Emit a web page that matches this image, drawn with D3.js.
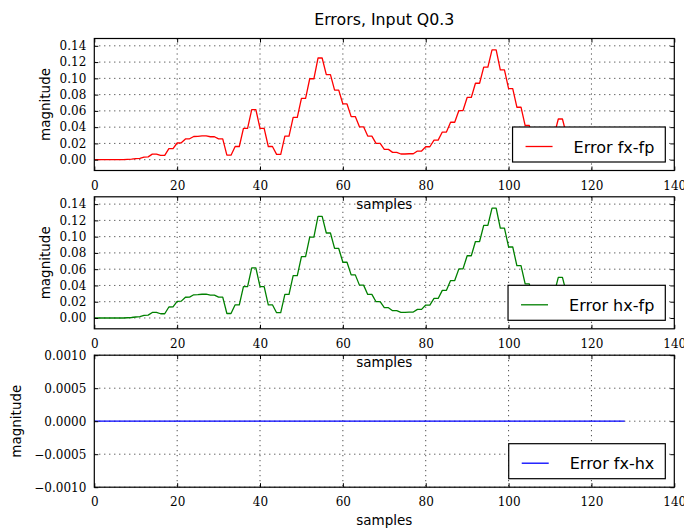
<!DOCTYPE html>
<html><head><meta charset="utf-8">
<script src="https://cdn.jsdelivr.net/npm/d3@7"></script>
<style>body{margin:0;background:#fff} svg{display:block}</style>
</head><body>
<svg id="c" width="684" height="529"></svg>
<script>
const chartTitle = "Errors, Input Q0.3";
const xLabel = "samples";
const yLabel = "magnitude";
const xTicks = [0, 20, 40, 60, 80, 100, 120, 140];
const errTicks = [0, 0.02, 0.04, 0.06, 0.08, 0.10, 0.12, 0.14];
const diffTicks = [-0.001, -0.0005, 0, 0.0005, 0.001];
const legendLabels = ["Error fx-fp", "Error hx-fp", "Error fx-hx"];
const errFxFp = [
  0, 0, 0, 0, 0, 0, 0, 0, 0.0003, 0.0006,
  0.0012, 0.0016, 0.0032, 0.0035, 0.0068, 0.0068, 0.0052, 0.0052, 0.0135, 0.0137,
  0.0205, 0.0207, 0.0255, 0.0257, 0.0285, 0.0287, 0.0292, 0.0292, 0.0282, 0.0282,
  0.0256, 0.0256, 0.0055, 0.0055, 0.0162, 0.0162, 0.0385, 0.0385, 0.0615, 0.0615,
  0.0385, 0.0385, 0.0162, 0.0162, 0.0065, 0.0065, 0.029, 0.029, 0.052, 0.052,
  0.0755, 0.0755, 0.0995, 0.0995, 0.125, 0.125, 0.1045, 0.1045, 0.0855, 0.0855,
  0.0685, 0.0685, 0.053, 0.053, 0.0404, 0.0404, 0.029, 0.029, 0.020, 0.020,
  0.0127, 0.0127, 0.009, 0.009, 0.007, 0.007, 0.0073, 0.0073, 0.0106, 0.0106,
  0.0159, 0.0159, 0.024, 0.024, 0.034, 0.034, 0.046, 0.046, 0.0604, 0.0604,
  0.0765, 0.0765, 0.094, 0.094, 0.1138, 0.1138, 0.135, 0.135, 0.1105, 0.1105,
  0.0873, 0.0873, 0.0645, 0.0645, 0.042, 0.042, 0.02, 0.02, 0.008, 0.008,
  0.03, 0.03, 0.05, 0.05, 0.03, 0.03, 0.012, 0.012, 0.005, 0.005,
  0.02, 0.02, 0.026, 0.026, 0.028, 0.028, 0.027, 0.027, 0.025
];
const errHxFp = [
  0, 0, 0, 0, 0, 0, 0, 0, 0.0003, 0.0006,
  0.0012, 0.0016, 0.0032, 0.0035, 0.0068, 0.0068, 0.0052, 0.0052, 0.0135, 0.0137,
  0.0205, 0.0207, 0.0255, 0.0257, 0.0285, 0.0287, 0.0292, 0.0292, 0.0282, 0.0282,
  0.0256, 0.0256, 0.0055, 0.0055, 0.0162, 0.0162, 0.0385, 0.0385, 0.0615, 0.0615,
  0.0385, 0.0385, 0.0162, 0.0162, 0.0065, 0.0065, 0.029, 0.029, 0.052, 0.052,
  0.0755, 0.0755, 0.0995, 0.0995, 0.125, 0.125, 0.1045, 0.1045, 0.0855, 0.0855,
  0.0685, 0.0685, 0.053, 0.053, 0.0404, 0.0404, 0.029, 0.029, 0.020, 0.020,
  0.0127, 0.0127, 0.009, 0.009, 0.007, 0.007, 0.0073, 0.0073, 0.0106, 0.0106,
  0.0159, 0.0159, 0.024, 0.024, 0.034, 0.034, 0.046, 0.046, 0.0604, 0.0604,
  0.0765, 0.0765, 0.094, 0.094, 0.1138, 0.1138, 0.135, 0.135, 0.1105, 0.1105,
  0.0873, 0.0873, 0.0645, 0.0645, 0.042, 0.042, 0.02, 0.02, 0.008, 0.008,
  0.03, 0.03, 0.05, 0.05, 0.03, 0.03, 0.012, 0.012, 0.005, 0.005,
  0.02, 0.02, 0.026, 0.026, 0.028, 0.028, 0.027, 0.027, 0.025
];
const errFxHx = [
  0, 0, 0, 0, 0, 0, 0, 0, 0, 0, 0, 0, 0, 0, 0, 0, 0, 0, 0, 0,
  0, 0, 0, 0, 0, 0, 0, 0, 0, 0, 0, 0, 0, 0, 0, 0, 0, 0, 0, 0,
  0, 0, 0, 0, 0, 0, 0, 0, 0, 0, 0, 0, 0, 0, 0, 0, 0, 0, 0, 0,
  0, 0, 0, 0, 0, 0, 0, 0, 0, 0, 0, 0, 0, 0, 0, 0, 0, 0, 0, 0,
  0, 0, 0, 0, 0, 0, 0, 0, 0, 0, 0, 0, 0, 0, 0, 0, 0, 0, 0, 0,
  0, 0, 0, 0, 0, 0, 0, 0, 0, 0, 0, 0, 0, 0, 0, 0, 0, 0, 0, 0,
  0, 0, 0, 0, 0, 0, 0, 0, 0
];

const svg = d3.select("#c");
const L = 94.3, R = 674.3, H = 132;
const x = d3.scaleLinear().domain([0, 140]).range([L, R]);
const fmtErr = d3.format(".2f");
const fmtDiff = v => (v < 0 ? "\u2212" : "") + Math.abs(v).toFixed(4);

const panels = [
  {top: 38.5, data: errFxFp, color: "#ff0000", label: legendLabels[0], domain: [-0.0133, 0.149], ticks: errTicks, fmt: fmtErr, ylabX: 49.5},
  {top: 196.8, data: errHxFp, color: "#008000", label: legendLabels[1], domain: [-0.0133, 0.149], ticks: errTicks, fmt: fmtErr, ylabX: 49.5},
  {top: 355.2, data: errFxHx, color: "#0000ff", label: legendLabels[2], domain: [-0.001, 0.001], ticks: diffTicks, fmt: fmtDiff, ylabX: 20.5}
];

const labelLayer = [];
panels.forEach(p => {
  const bottom = p.top + H;
  const y = d3.scaleLinear().domain(p.domain).range([bottom, p.top]);
  const g = svg.append("g");
  g.append("rect").attr("x", L).attr("y", p.top).attr("width", R - L).attr("height", H).attr("fill", "#fff");
  // grid
  g.selectAll(".gx").data(xTicks.slice(1, -1)).join("line")
    .attr("x1", d => x(d)).attr("x2", d => x(d)).attr("y1", p.top).attr("y2", bottom)
    .attr("stroke", "#000").attr("stroke-width", 1).attr("stroke-dasharray", "1,4").attr("opacity", 0.85);
  g.selectAll(".gy").data(p.ticks).join("line")
    .attr("x1", L).attr("x2", R).attr("y1", d => y(d)).attr("y2", d => y(d))
    .attr("stroke", "#000").attr("stroke-width", 1).attr("stroke-dasharray", "1,4").attr("opacity", 0.85);
  // data line
  const line = d3.line().x((d, i) => x(i)).y(d => y(d));
  g.append("path").datum(p.data).attr("d", line).attr("fill", "none")
    .attr("stroke", p.color).attr("stroke-width", 1.3).attr("stroke-linejoin", "round");
  // axes
  const axB = g.append("g").attr("transform", `translate(0,${bottom})`)
    .call(d3.axisBottom(x).tickValues(xTicks).tickSize(-4).tickPadding(15).tickFormat(d3.format("d")));
  const axT = g.append("g").attr("transform", `translate(0,${p.top})`)
    .call(d3.axisTop(x).tickValues(xTicks).tickSize(-4).tickFormat(""));
  const axL = g.append("g").attr("transform", `translate(${L},0)`)
    .call(d3.axisLeft(y).tickValues(p.ticks).tickSize(-4).tickPadding(8).tickFormat(p.fmt));
  const axR = g.append("g").attr("transform", `translate(${R},0)`)
    .call(d3.axisRight(y).tickValues(p.ticks).tickSize(-4).tickFormat(""));
  [axB, axT, axL, axR].forEach(a => {
    a.select(".domain").remove();
    a.selectAll("line").attr("stroke", "#000").attr("stroke-width", 1);
    a.selectAll("text").attr("font-family", "DejaVu Serif").attr("font-size", 12).attr("fill", "#000");
  });
  axB.selectAll("text").attr("dy", null).attr("y", 19).attr("dominant-baseline", "auto");
  axL.selectAll("text").attr("x", -8);
  // frame
  g.append("rect").attr("x", L).attr("y", p.top).attr("width", R - L).attr("height", H)
    .attr("fill", "none").attr("stroke", "#000").attr("stroke-width", 1.2);
  // legend
  const lg = g.append("g");
  const lt = lg.append("text").text(p.label).attr("font-family", "DejaVu Sans").attr("font-size", 16).attr("fill", "#000");
  const tw = lt.node().getComputedTextLength();
  const lh = 35, lw = 13 + 27 + 21 + tw + 11;
  const lx = R - 9 - lw, ly = bottom - 8.5 - lh;
  lg.insert("rect", "text").attr("x", lx).attr("y", ly).attr("width", lw).attr("height", lh)
    .attr("fill", "#fff").attr("stroke", "#000").attr("stroke-width", 1.2);
  lg.insert("line", "text").attr("x1", lx + 13).attr("x2", lx + 40).attr("y1", ly + lh / 2 + 2).attr("y2", ly + lh / 2 + 2)
    .attr("stroke", p.color).attr("stroke-width", 1.3);
  lt.attr("x", lx + 61).attr("y", ly + lh / 2 + 8);
  labelLayer.push({p, bottom});
});

// axis labels drawn last (they overlap the next panel)
labelLayer.forEach(({p, bottom}) => {
  svg.append("text").text(xLabel).attr("x", (L + R) / 2).attr("y", bottom + 38)
    .attr("text-anchor", "middle").attr("font-family", "DejaVu Sans").attr("font-size", 13.5).attr("fill", "#000");
  svg.append("text").text(yLabel)
    .attr("transform", `translate(${p.ylabX},${p.top + H / 2}) rotate(-90)`)
    .attr("text-anchor", "middle").attr("font-family", "DejaVu Sans").attr("font-size", 13.5).attr("fill", "#000");
});

svg.append("text").text(chartTitle).attr("x", (L + R) / 2).attr("y", 25)
  .attr("text-anchor", "middle").attr("font-family", "DejaVu Sans").attr("font-size", 15.8).attr("fill", "#000");
</script>
</body></html>
